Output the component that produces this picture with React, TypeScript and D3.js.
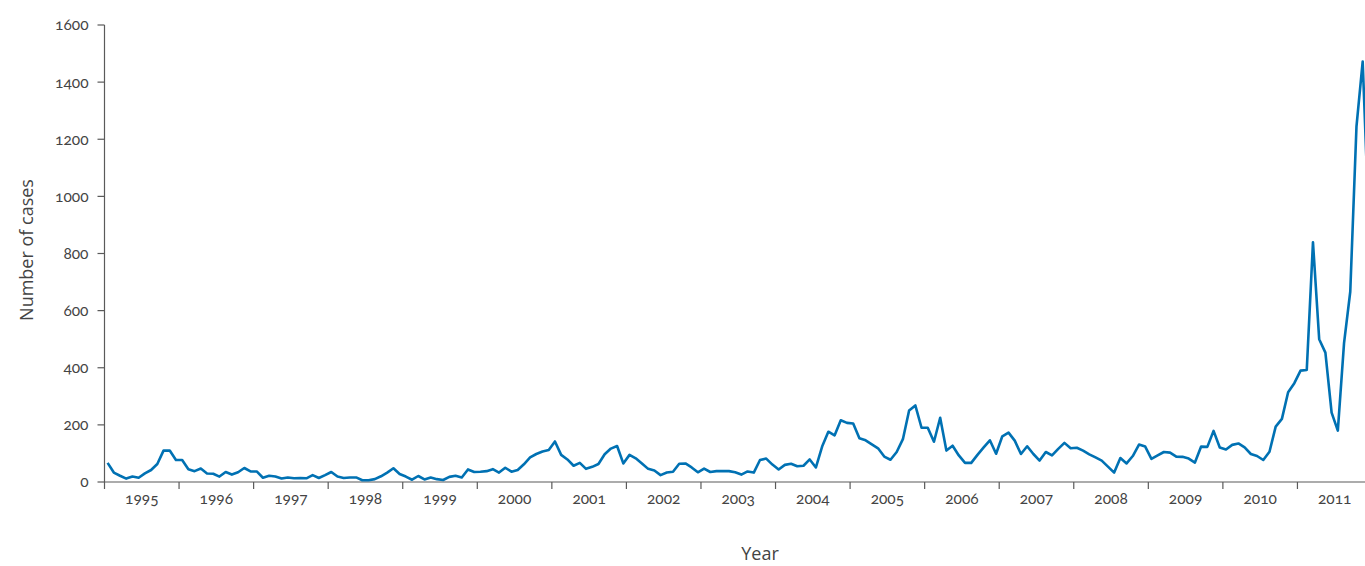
import React from "react";
import * as d3 from "d3";

const yearTicks: number[] = [1995, 1996, 1997, 1998, 1999, 2000, 2001, 2002, 2003, 2004, 2005, 2006, 2007, 2008, 2009, 2010, 2011];
const yTicks: number[] = [0, 200, 400, 600, 800, 1000, 1200, 1400, 1600];

// Monthly number of cases, January 1995 – December 2011 (one row per year)
const cases1995 = [67, 33, 22, 12, 19, 15, 30, 42, 63, 110, 110, 77];
const cases1996 = [77, 45, 38, 47, 30, 29, 19, 35, 26, 34, 49, 37];
const cases1997 = [37, 15, 22, 19, 12, 16, 13, 14, 13, 24, 14, 24];
const cases1998 = [35, 19, 14, 16, 16, 6, 6, 10, 20, 33, 48, 28];
const cases1999 = [19, 8, 21, 9, 16, 10, 7, 18, 22, 16, 44, 35];
const cases2000 = [36, 38, 45, 33, 50, 36, 42, 62, 86, 98, 107, 112];
const cases2001 = [142, 95, 79, 57, 67, 46, 53, 63, 97, 117, 126, 65];
const cases2002 = [95, 83, 65, 46, 40, 24, 33, 36, 64, 65, 51, 34];
const cases2003 = [47, 35, 38, 38, 38, 34, 26, 37, 33, 77, 82, 61];
const cases2004 = [44, 60, 64, 55, 57, 79, 51, 124, 176, 163, 216, 207];
const cases2005 = [205, 153, 146, 132, 118, 89, 78, 105, 150, 250, 268, 190];
const cases2006 = [190, 141, 225, 110, 127, 93, 67, 67, 95, 121, 146, 99];
const cases2007 = [160, 173, 145, 98, 125, 98, 75, 105, 93, 116, 137, 118];
const cases2008 = [120, 110, 97, 86, 75, 54, 33, 84, 65, 91, 131, 124];
const cases2009 = [81, 93, 105, 103, 89, 88, 82, 68, 124, 123, 179, 121];
const cases2010 = [114, 130, 135, 121, 98, 91, 77, 106, 194, 221, 314, 346];
const cases2011 = [390, 392, 839, 500, 453, 243, 180, 486, 666, 1244, 1472, 900];

const casesByYear: number[][] = [
  cases1995, cases1996, cases1997, cases1998, cases1999, cases2000, cases2001, cases2002, cases2003,
  cases2004, cases2005, cases2006, cases2007, cases2008, cases2009, cases2010, cases2011,
];

const W = 1365;
const H = 566;
const axisColor = "#5a5a5a";
const textColor = "#444";
const tickFont = "Lato, 'Open Sans', sans-serif";
const titleFont = "'Open Sans', 'DejaVu Sans', sans-serif";

export default function App() {
  const x = d3.scaleLinear().domain([1995, 2012]).range([104.5, 1372]);
  const y = d3.scaleLinear().domain([0, 1600]).range([482, 25]);

  const points: [number, number][] = [];
  casesByYear.forEach((row, yi) => {
    row.forEach((v, m) => {
      points.push([yearTicks[0] + yi + (m + 0.5) / 12, v]);
    });
  });

  const line = d3
    .line<[number, number]>()
    .x((d) => x(d[0]))
    .y((d) => y(d[1]));

  const x0 = x(1995);
  const yBase = y(0);

  return (
    <svg
      width={W}
      height={H}
      style={{ position: "absolute", left: 0, top: 0, display: "block", background: "#fff" }}
    >
      {/* y axis */}
      <line x1={x0} x2={x0} y1={y(1600)} y2={yBase} stroke={axisColor} strokeWidth={1.2} />
      {yTicks.map((t) => (
        <g key={t}>
          <line x1={x0 - 7} x2={x0} y1={y(t)} y2={y(t)} stroke={axisColor} strokeWidth={1.2} />
          <text
            x={x0 - 16}
            y={y(t)}
            dy="0.35em"
            textAnchor="end"
            fontFamily={tickFont}
            fontSize={15.5}
            fill={textColor}
            style={{ fontVariantNumeric: "oldstyle-nums" }}
          >
            {t}
          </text>
        </g>
      ))}

      {/* x axis */}
      <line x1={x0} x2={W} y1={yBase} y2={yBase} stroke={axisColor} strokeWidth={1.2} />
      {yearTicks.map((yr) => (
        <g key={yr}>
          <line x1={x(yr)} x2={x(yr)} y1={yBase} y2={yBase + 7} stroke={axisColor} strokeWidth={1.2} />
          <text
            x={x(yr + 0.5)}
            y={499}
            dy="0.35em"
            textAnchor="middle"
            fontFamily={tickFont}
            fontSize={15.5}
            fill={textColor}
            style={{ fontVariantNumeric: "oldstyle-nums" }}
          >
            {yr}
          </text>
        </g>
      ))}

      {/* data line */}
      <path d={line(points) || ""} fill="none" stroke="#0071b3" strokeWidth={2.6} strokeLinejoin="round" />

      {/* axis titles */}
      <text
        x={760}
        y={560}
        textAnchor="middle"
        fontFamily={titleFont}
        fontSize={18}
        fill={textColor}
      >
        Year
      </text>
      <text
        transform="translate(27,250) rotate(-90)"
        dy="0.35em"
        textAnchor="middle"
        fontFamily={titleFont}
        fontSize={18}
        fill={textColor}
      >
        Number of cases
      </text>
    </svg>
  );
}
